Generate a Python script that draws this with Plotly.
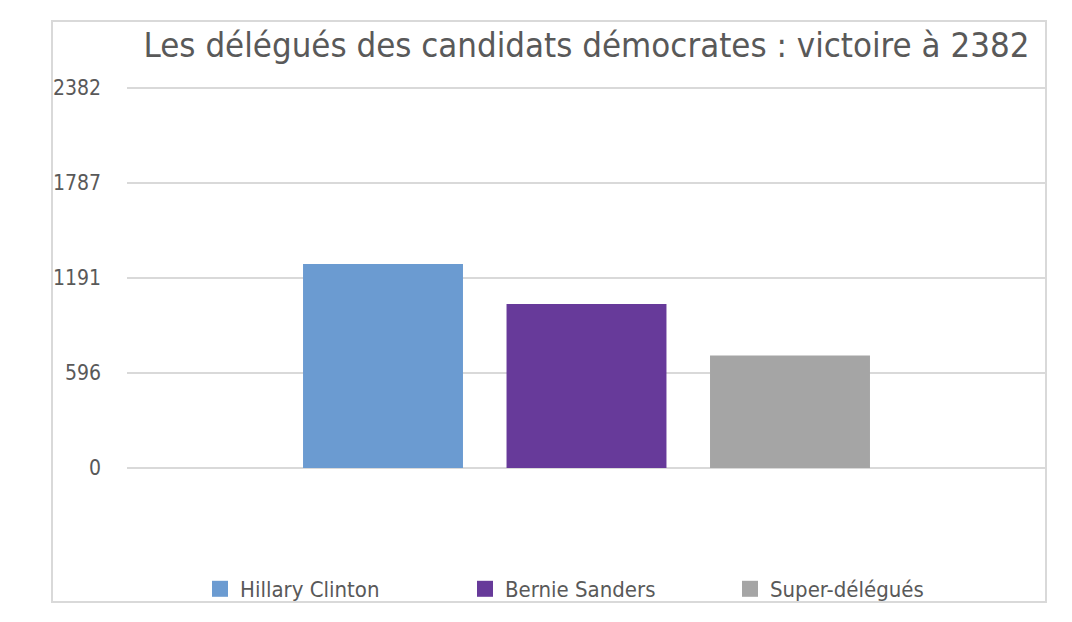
import plotly.graph_objects as go

categories = ["Hillary Clinton", "Bernie Sanders", "Super-délégués"]
values = [1279, 1028, 706]
colors = ["#6b9bd1", "#673a9a", "#a5a5a5"]
tick_vals = [0, 596, 1191, 1787, 2382]
tick_text = ["0", "596", "1191", "1787", "2382"]
title_text = "Les délégués des candidats démocrates : victoire à 2382"

FONT = "DejaVu Sans Condensed, DejaVu Sans, sans-serif"

fig = go.Figure()
for name, val, col in zip(categories, values, colors):
    fig.add_trace(go.Bar(
        x=[name], y=[val], name=name, marker_color=col,
        marker_line_width=0, width=0.786, showlegend=False, legendgroup=name,
    ))
for name, col in zip(categories, colors):
    fig.add_trace(go.Scatter(
        x=[None], y=[None], mode="markers", name=name, legendgroup=name,
        marker=dict(symbol="square", size=20, color=col), showlegend=True,
    ))

W, H = 1056, 606
L, R, T, B = 119, 18, 78, 146
pw, ph = W - L - R, H - T - B

fig.update_layout(
    width=W, height=H,
    paper_bgcolor="white", plot_bgcolor="white",
    margin=dict(l=L, r=R, t=T, b=B, autoexpand=False),
    font=dict(family=FONT, color="#595959"),
    title=dict(text=title_text, x=578.5 / W, xanchor="center", xref="container",
               y=1 - 37 / H, yanchor="middle", yref="container",
               font=dict(size=34.5, color="#595959", family=FONT)),
    showlegend=True,
    legend=dict(orientation="h", x=192 / W, xanchor="left", xref="container",
                y=1 - 581 / H, yanchor="middle", yref="container",
                bgcolor="rgba(0,0,0,0)",
                font=dict(size=22, color="#595959", family=FONT),
                entrywidth=220, entrywidthmode="pixels", traceorder="normal"),
    barmode="overlay",
)
fig.update_xaxes(
    type="category", categoryorder="array", categoryarray=categories,
    range=[-1.258, 3.258], showticklabels=False, showgrid=False, zeroline=False,
    showline=False, ticks="",
)
fig.update_yaxes(
    range=[0, 2395], tickvals=tick_vals, ticktext=tick_text,
    showgrid=True, gridcolor="#d9d9d9", gridwidth=2, zeroline=True,
    zerolinecolor="#d9d9d9", zerolinewidth=2, showline=False, ticks="",
    tickfont=dict(size=21, color="#595959", family=FONT), ticklabelstandoff=25,
)
fig.add_shape(type="rect", xref="paper", yref="paper",
              x0=(44 - L) / pw, x1=(1038 - L) / pw,
              y0=-(594 - (H - B)) / ph, y1=1 + (T - 13) / ph,
              line=dict(color="#d9d9d9", width=2), fillcolor="rgba(0,0,0,0)", layer="below")

fig.write_html("out.html")
